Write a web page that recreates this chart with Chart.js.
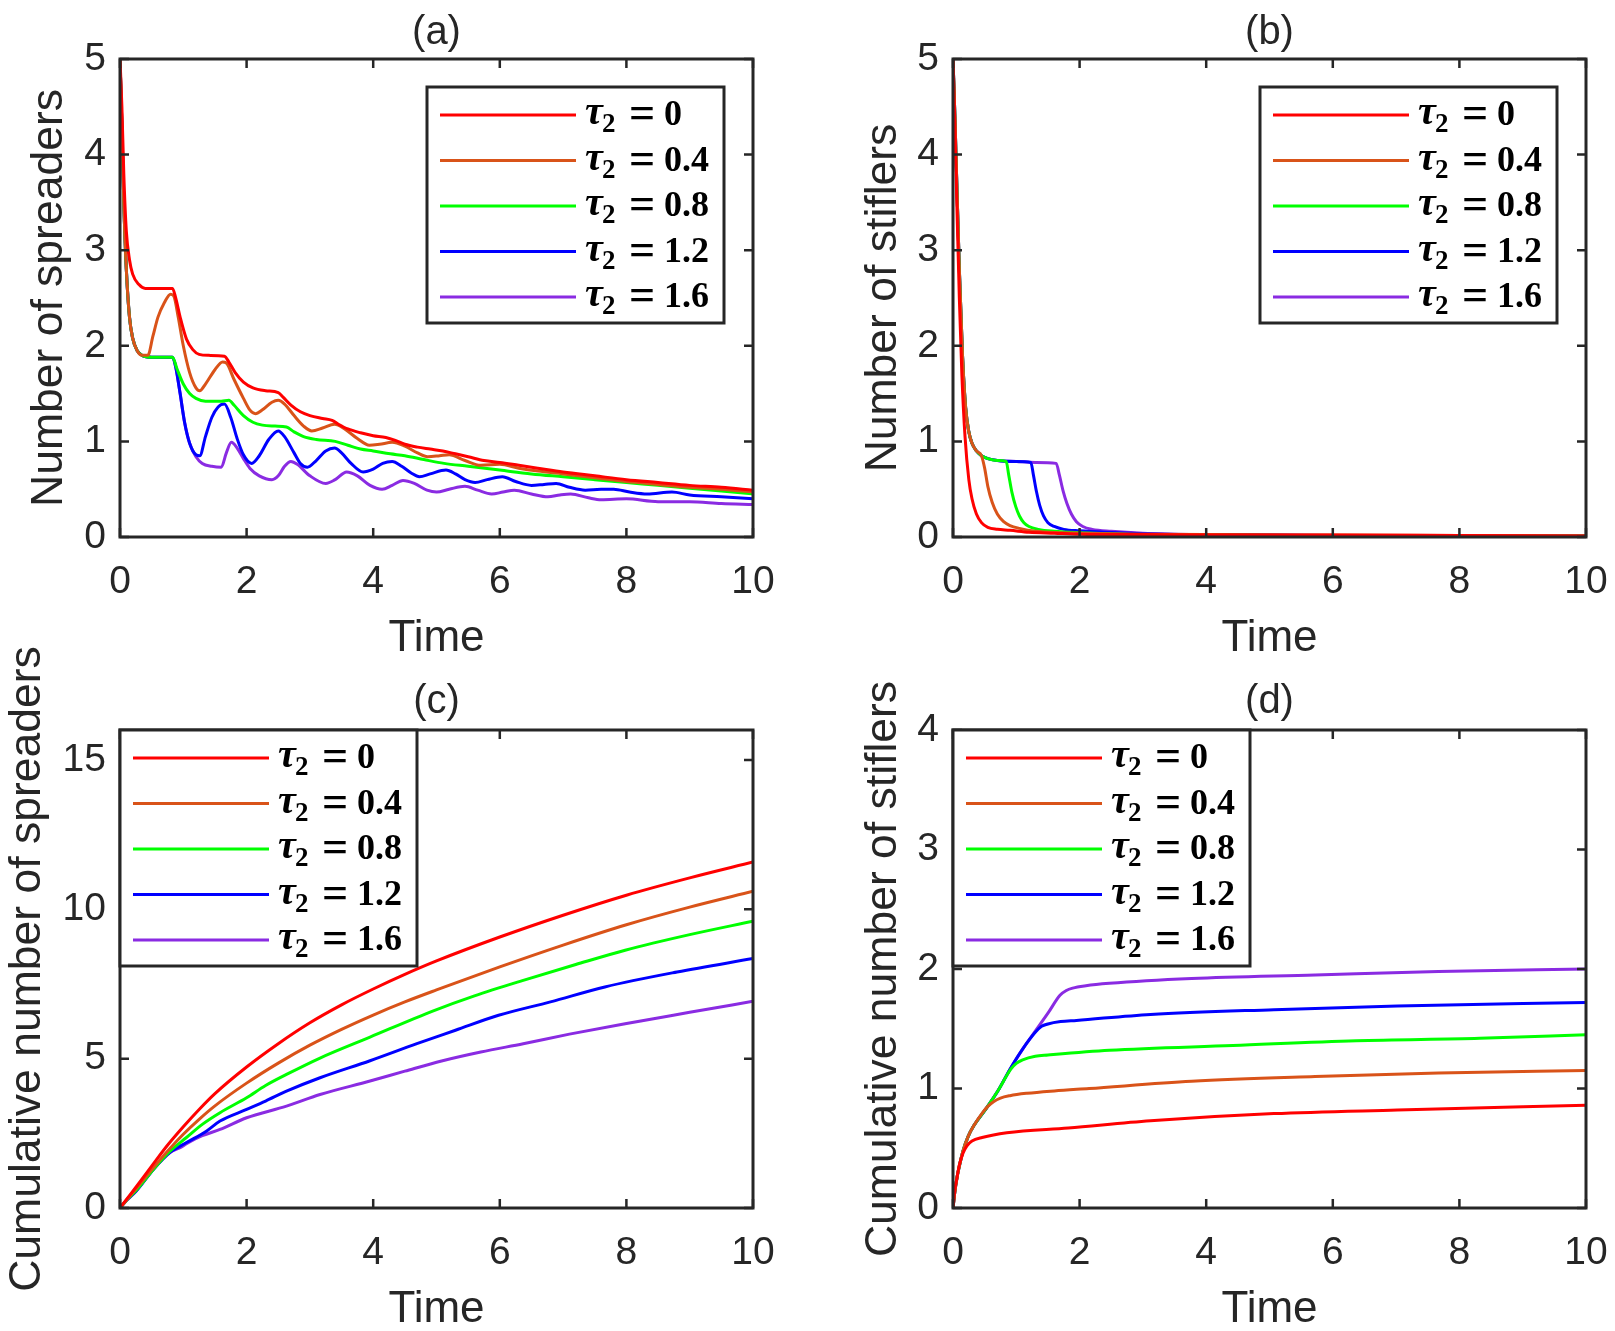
<!DOCTYPE html>
<html>
<head>
<meta charset="utf-8">
<title>Spreaders and stiflers for different tau2</title>
<script src="https://cdn.jsdelivr.net/npm/chart.js@4.4.0/dist/chart.umd.min.js"></script>
<style>
  html, body { margin: 0; background: #fff; overflow: hidden; }
  #wrap { position: relative; width: 1615px; height: 1331px; overflow: hidden; }
  canvas { position: absolute; }
</style>
</head>
<body>
<div id="wrap">
  <canvas id="pa" width="807" height="665" style="left:0;top:0"></canvas>
  <canvas id="pb" width="823" height="665" style="left:807px;top:0"></canvas>
  <canvas id="pc" width="807" height="731" style="left:0;top:600px"></canvas>
  <canvas id="pd" width="823" height="731" style="left:807px;top:600px"></canvas>
</div>
<script>
// legend values and colours
const tauLabels = ['0', '0.4', '0.8', '1.2', '1.6'];
const colors = ['#ff0000', '#d95319', '#00ff00', '#0000ff', '#8a2be2'];

// (a) number of spreaders, [time, value]
const spreadTau0 = [[0,5],[0.03,4.5],[0.06,3.8],[0.1,3.2],[0.15,2.9],[0.2,2.75],[0.3,2.64],[0.4,2.6],[0.6,2.6],[0.83,2.6],[0.88,2.5],[0.95,2.3],[1.05,2.07],[1.15,1.96],[1.25,1.91],[1.4,1.9],[1.65,1.89],[1.72,1.83],[1.82,1.72],[1.95,1.62],[2.1,1.56],[2.3,1.53],[2.5,1.51],[2.58,1.46],[2.7,1.38],[2.85,1.31],[3.0,1.27],[3.2,1.24],[3.35,1.22],[3.45,1.18],[3.6,1.13],[3.8,1.09],[4.0,1.06],[4.2,1.04],[4.35,1.01],[4.5,0.97],[4.7,0.94],[4.9,0.92],[5.1,0.9],[5.3,0.87],[5.5,0.84],[5.75,0.8],[6.0,0.78],[6.3,0.75],[6.6,0.72],[7.0,0.68],[7.5,0.64],[8.0,0.6],[8.5,0.57],[9.0,0.54],[9.5,0.52],[10,0.49]];
const spreadTau04 = [[0,5],[0.03,4.3],[0.06,3.5],[0.1,2.8],[0.15,2.3],[0.2,2.08],[0.27,1.95],[0.35,1.9],[0.44,1.9],[0.52,2.1],[0.6,2.3],[0.7,2.45],[0.8,2.54],[0.85,2.52],[0.92,2.3],[1.0,2.0],[1.1,1.72],[1.2,1.56],[1.26,1.53],[1.35,1.6],[1.5,1.75],[1.62,1.83],[1.68,1.82],[1.8,1.65],[1.95,1.45],[2.05,1.33],[2.14,1.29],[2.25,1.33],[2.4,1.41],[2.5,1.43],[2.6,1.39],[2.75,1.27],[2.9,1.16],[3.03,1.11],[3.2,1.14],[3.39,1.18],[3.55,1.13],[3.75,1.03],[3.94,0.96],[4.1,0.97],[4.3,0.99],[4.5,0.95],[4.7,0.88],[4.86,0.84],[5.05,0.85],[5.2,0.86],[5.45,0.8],[5.7,0.75],[6.0,0.76],[6.3,0.72],[6.6,0.69],[7.0,0.66],[7.5,0.62],[8.0,0.58],[8.5,0.55],[9.0,0.52],[9.5,0.5],[10,0.47]];
const spreadTau08 = [[0,5],[0.03,4.3],[0.06,3.5],[0.1,2.8],[0.15,2.3],[0.2,2.08],[0.27,1.95],[0.35,1.9],[0.5,1.88],[0.83,1.88],[0.9,1.76],[1.0,1.6],[1.1,1.5],[1.2,1.45],[1.35,1.42],[1.6,1.42],[1.72,1.43],[1.8,1.38],[1.95,1.27],[2.1,1.2],[2.25,1.17],[2.45,1.16],[2.63,1.15],[2.75,1.1],[2.9,1.05],[3.1,1.02],[3.4,1.0],[3.6,0.96],[3.8,0.92],[4.0,0.9],[4.27,0.87],[4.5,0.85],[4.8,0.81],[5.12,0.77],[5.5,0.74],[6.0,0.7],[6.5,0.66],[7.0,0.63],[7.5,0.6],[8.0,0.57],[8.5,0.54],[9.0,0.51],[9.5,0.48],[10,0.45]];
const spreadTau12 = [[0,5],[0.03,4.3],[0.06,3.5],[0.1,2.8],[0.15,2.3],[0.2,2.08],[0.27,1.95],[0.35,1.9],[0.5,1.88],[0.83,1.88],[0.88,1.78],[0.95,1.5],[1.02,1.2],[1.1,0.98],[1.2,0.86],[1.26,0.85],[1.35,1.05],[1.45,1.25],[1.55,1.36],[1.65,1.39],[1.75,1.25],[1.85,1.03],[1.95,0.86],[2.08,0.77],[2.2,0.85],[2.35,1.02],[2.5,1.11],[2.6,1.05],[2.75,0.88],[2.85,0.77],[2.96,0.73],[3.1,0.8],[3.25,0.9],[3.39,0.93],[3.5,0.88],[3.65,0.77],[3.84,0.68],[4.0,0.71],[4.15,0.77],[4.3,0.79],[4.45,0.74],[4.6,0.67],[4.73,0.63],[4.9,0.66],[5.15,0.7],[5.3,0.66],[5.45,0.6],[5.61,0.57],[5.8,0.6],[6.04,0.63],[6.25,0.58],[6.5,0.54],[6.7,0.55],[6.89,0.56],[7.1,0.52],[7.35,0.49],[7.6,0.5],[7.8,0.5],[8.05,0.47],[8.33,0.45],[8.72,0.47],[9.0,0.44],[9.5,0.42],[10,0.4]];
const spreadTau16 = [[0,5],[0.03,4.3],[0.06,3.5],[0.1,2.8],[0.15,2.3],[0.2,2.08],[0.27,1.95],[0.35,1.9],[0.5,1.88],[0.83,1.88],[0.88,1.78],[0.95,1.5],[1.02,1.2],[1.1,0.98],[1.2,0.84],[1.3,0.77],[1.45,0.74],[1.6,0.73],[1.68,0.88],[1.76,0.99],[1.85,0.93],[1.95,0.82],[2.05,0.72],[2.2,0.64],[2.4,0.6],[2.5,0.64],[2.6,0.74],[2.7,0.79],[2.8,0.76],[3.0,0.64],[3.25,0.56],[3.4,0.6],[3.58,0.68],[3.75,0.64],[3.95,0.54],[4.14,0.5],[4.3,0.54],[4.47,0.59],[4.65,0.56],[4.85,0.49],[5.0,0.47],[5.2,0.5],[5.45,0.53],[5.65,0.49],[5.87,0.45],[6.05,0.47],[6.23,0.49],[6.5,0.45],[6.76,0.42],[6.95,0.44],[7.12,0.45],[7.4,0.41],[7.6,0.39],[8.0,0.4],[8.5,0.37],[9.0,0.37],[9.5,0.35],[10,0.34]];

// (b) number of stiflers
const stifTau0 = [[0,5],[0.03,4.3],[0.06,3.5],[0.1,2.5],[0.14,1.7],[0.19,1.05],[0.25,0.6],[0.3,0.4],[0.37,0.24],[0.45,0.15],[0.55,0.1],[0.7,0.08],[0.9,0.07],[1.2,0.05],[1.6,0.04],[2.0,0.03],[3.0,0.025],[4.0,0.02],[6.0,0.02],[8.0,0.015],[10,0.01]];
const stifTau04 = [[0,5],[0.03,4.4],[0.06,3.7],[0.1,2.8],[0.15,1.9],[0.2,1.35],[0.25,1.1],[0.3,0.98],[0.37,0.9],[0.45,0.85],[0.5,0.72],[0.55,0.53],[0.62,0.36],[0.7,0.24],[0.8,0.16],[0.9,0.12],[1.05,0.09],[1.3,0.06],[1.7,0.045],[2.0,0.04],[3.0,0.03],[4.0,0.025],[6.0,0.02],[8.0,0.015],[10,0.01]];
const stifTau08 = [[0,5],[0.03,4.4],[0.06,3.7],[0.1,2.8],[0.15,1.9],[0.2,1.35],[0.25,1.1],[0.3,0.98],[0.37,0.9],[0.45,0.85],[0.55,0.82],[0.7,0.8],[0.84,0.79],[0.88,0.65],[0.93,0.47],[0.99,0.32],[1.05,0.22],[1.12,0.15],[1.2,0.11],[1.35,0.08],[1.6,0.06],[2.0,0.045],[2.7,0.03],[4.0,0.02],[6.0,0.015],[8.0,0.01],[10,0.01]];
const stifTau12 = [[0,5],[0.03,4.4],[0.06,3.7],[0.1,2.8],[0.15,1.9],[0.2,1.35],[0.25,1.1],[0.3,0.98],[0.37,0.9],[0.45,0.85],[0.55,0.82],[0.7,0.8],[1.0,0.79],[1.23,0.78],[1.27,0.65],[1.32,0.47],[1.37,0.33],[1.43,0.22],[1.5,0.15],[1.6,0.11],[1.75,0.08],[2.0,0.065],[2.4,0.05],[3.0,0.035],[4.0,0.025],[6.0,0.015],[8.0,0.01],[10,0.01]];
const stifTau16 = [[0,5],[0.03,4.4],[0.06,3.7],[0.1,2.8],[0.15,1.9],[0.2,1.35],[0.25,1.1],[0.3,0.98],[0.37,0.9],[0.45,0.85],[0.55,0.82],[0.7,0.8],[1.0,0.79],[1.3,0.78],[1.63,0.77],[1.68,0.65],[1.74,0.48],[1.8,0.35],[1.87,0.24],[1.95,0.16],[2.05,0.11],[2.2,0.08],[2.5,0.06],[3.0,0.04],[4.0,0.025],[6.0,0.015],[8.0,0.01],[10,0.01]];

// (c) cumulative number of spreaders
const cumSpreadTau0 = [[0,0],[0.1,0.28],[0.26,0.72],[0.5,1.4],[0.75,2.1],[1.0,2.72],[1.25,3.3],[1.5,3.83],[2.0,4.72],[2.5,5.5],[3.0,6.2],[3.5,6.8],[4.0,7.33],[4.5,7.82],[5.0,8.27],[6.0,9.07],[7.0,9.8],[8.0,10.47],[9.0,11.05],[10,11.58]];
const cumSpreadTau04 = [[0,0],[0.1,0.26],[0.26,0.66],[0.5,1.28],[0.75,1.9],[1.0,2.47],[1.25,2.97],[1.5,3.42],[2.0,4.18],[2.5,4.85],[3.0,5.45],[3.5,5.98],[4.0,6.46],[4.5,6.9],[5.0,7.3],[6.0,8.07],[7.0,8.8],[8.0,9.48],[9.0,10.07],[10,10.6]];
const cumSpreadTau08 = [[0,0],[0.1,0.25],[0.26,0.6],[0.53,1.3],[0.79,1.9],[1.05,2.36],[1.3,2.8],[1.58,3.19],[2.0,3.69],[2.3,4.1],[2.63,4.47],[3.16,5.02],[3.95,5.72],[4.95,6.6],[5.6,7.1],[6.37,7.62],[7.2,8.15],[7.98,8.63],[9.0,9.15],[10,9.6]];
const cumSpreadTau12 = [[0,0],[0.1,0.25],[0.26,0.58],[0.53,1.3],[0.79,1.86],[1.05,2.19],[1.37,2.58],[1.58,2.91],[2.0,3.3],[2.3,3.58],[2.63,3.91],[3.16,4.36],[3.95,4.93],[4.69,5.5],[5.3,5.95],[5.98,6.45],[6.8,6.9],[7.66,7.4],[8.8,7.9],[10,8.35]];
const cumSpreadTau16 = [[0,0],[0.1,0.24],[0.26,0.58],[0.53,1.3],[0.79,1.86],[0.95,2.02],[1.05,2.15],[1.3,2.42],[1.58,2.63],[2.0,3.02],[2.63,3.41],[3.16,3.8],[3.95,4.25],[4.5,4.58],[5.08,4.92],[5.7,5.22],[6.37,5.5],[7.1,5.82],[7.98,6.17],[9.0,6.55],[10,6.92]];

// (d) cumulative number of stiflers
const cumStifTau0 = [[0,0],[0.03,0.15],[0.065,0.26],[0.1,0.36],[0.16,0.46],[0.22,0.52],[0.3,0.56],[0.46,0.59],[0.85,0.63],[1.82,0.67],[3.12,0.73],[5.07,0.79],[7.02,0.82],[10,0.86]];
const cumStifTau04 = [[0,0],[0.03,0.14],[0.065,0.26],[0.1,0.35],[0.16,0.48],[0.24,0.6],[0.33,0.69],[0.47,0.8],[0.55,0.85],[0.64,0.89],[0.75,0.92],[0.9,0.94],[1.17,0.96],[1.6,0.98],[2.15,1.0],[3.77,1.06],[5.72,1.1],[7.67,1.13],[10,1.15]];
const cumStifTau08 = [[0,0],[0.03,0.14],[0.065,0.26],[0.1,0.35],[0.16,0.48],[0.24,0.6],[0.33,0.69],[0.52,0.83],[0.72,0.99],[0.91,1.16],[1.0,1.21],[1.1,1.24],[1.3,1.27],[1.5,1.28],[2.47,1.32],[4.42,1.36],[6.37,1.4],[8.32,1.42],[10,1.45]];
const cumStifTau12 = [[0,0],[0.03,0.14],[0.065,0.26],[0.1,0.35],[0.16,0.48],[0.24,0.6],[0.33,0.69],[0.52,0.83],[0.72,0.99],[0.91,1.17],[1.1,1.33],[1.3,1.47],[1.4,1.52],[1.5,1.54],[1.7,1.56],[1.95,1.57],[3.12,1.62],[5.07,1.66],[7.02,1.69],[10,1.72]];
const cumStifTau16 = [[0,0],[0.03,0.14],[0.065,0.26],[0.1,0.35],[0.16,0.48],[0.24,0.6],[0.33,0.69],[0.52,0.83],[0.72,0.99],[0.91,1.17],[1.1,1.33],[1.3,1.48],[1.5,1.63],[1.69,1.78],[1.79,1.82],[1.89,1.84],[2.1,1.86],[2.47,1.88],[3.77,1.92],[5.72,1.95],[7.67,1.98],[10,2.0]];

const SANS = '"Liberation Sans", Arial, sans-serif';
const SERIF = '"Liberation Serif", "Times New Roman", serif';
const INK = '#262626';

function mathLabel(ctx, x, y, val) {
  ctx.fillStyle = '#000';
  ctx.textAlign = 'left';
  ctx.textBaseline = 'alphabetic';
  ctx.font = 'italic bold 40px ' + SERIF;
  ctx.fillText('\u03c4', x, y + 9);
  ctx.font = 'bold 27px ' + SERIF;
  ctx.fillText('2', x + 17, y + 17);
  ctx.font = 'bold 46px ' + SERIF;
  ctx.fillText('=', x + 44, y + 13);
  ctx.font = 'bold 36px ' + SERIF;
  ctx.fillText(val, x + 79, y + 10);
}

// box, inward ticks, titles and legend, like a MATLAB axes
const framePlugin = {
  id: 'frame',
  afterDatasetsDraw(chart, args, o) {
    const { ctx, chartArea: a, scales } = chart;
    const xs = scales.x, ys = scales.y;
    ctx.save();
    ctx.strokeStyle = INK;
    ctx.lineWidth = 2.5;
    ctx.beginPath();
    xs.ticks.forEach(t => {
      const px = xs.getPixelForValue(t.value);
      ctx.moveTo(px, a.bottom); ctx.lineTo(px, a.bottom - 9);
      ctx.moveTo(px, a.top); ctx.lineTo(px, a.top + 9);
    });
    ys.ticks.forEach(t => {
      const py = ys.getPixelForValue(t.value);
      ctx.moveTo(a.left, py); ctx.lineTo(a.left + 9, py);
      ctx.moveTo(a.right, py); ctx.lineTo(a.right - 9, py);
    });
    ctx.stroke();
    ctx.lineWidth = 3;
    ctx.strokeRect(a.left, a.top, a.right - a.left, a.bottom - a.top);

    // titles
    ctx.fillStyle = INK;
    ctx.textAlign = 'center';
    ctx.textBaseline = 'middle';
    ctx.font = '40px ' + SANS;
    ctx.fillText(o.title, (a.left + a.right) / 2, a.top - o.titleGap);
    ctx.font = '44px ' + SANS;
    ctx.fillText('Time', (a.left + a.right) / 2, a.bottom + 102);
    ctx.save();
    ctx.translate(a.left - o.yTitleOffset, (a.top + a.bottom) / 2);
    ctx.rotate(-Math.PI / 2);
    ctx.font = '44.5px ' + SANS;
    ctx.fillText(o.yTitle, 0, 0);
    ctx.restore();

    // legend
    const bw = 297, bh = 236;
    const bx = o.legend === 'ne' ? a.right - 29 - bw : a.left;
    const by = o.legend === 'ne' ? a.top + 28 : a.top;
    ctx.fillStyle = '#fff';
    ctx.fillRect(bx, by, bw, bh);
    ctx.strokeStyle = INK;
    ctx.lineWidth = 3;
    ctx.strokeRect(bx, by, bw, bh);
    chart.data.datasets.forEach((ds, i) => {
      const ry = by + 28 + i * 45.5;
      ctx.strokeStyle = ds.borderColor;
      ctx.lineWidth = 3;
      ctx.beginPath();
      ctx.moveTo(bx + 13, ry); ctx.lineTo(bx + 149, ry);
      ctx.stroke();
      mathLabel(ctx, bx + 158, ry, tauLabels[i]);
    });
    ctx.restore();
  }
};

function makePanel(id, series, yMax, yStep, cfg) {
  new Chart(document.getElementById(id), {
    type: 'line',
    data: {
      datasets: series.map((s, i) => ({
        label: '\u03c4\u2082 = ' + tauLabels[i],
        data: s.map(p => ({ x: p[0], y: p[1] })),
        borderColor: colors[i],
        borderWidth: 3,
        pointRadius: 0,
        fill: false,
        cubicInterpolationMode: 'monotone'
      }))
    },
    options: {
      responsive: false,
      animation: false,
      devicePixelRatio: 1,
      layout: { padding: { left: 0, top: cfg.top, right: cfg.right, bottom: 0 } },
      plugins: {
        legend: { display: false },
        tooltip: { enabled: false },
        frame: cfg
      },
      scales: {
        x: {
          type: 'linear', min: 0, max: 10,
          grid: { display: false, drawTicks: false },
          border: { display: false },
          ticks: { stepSize: 2, autoSkip: false, maxRotation: 0, padding: 22, color: INK, font: { family: SANS, size: 39 } },
          afterFit: s => { s.height = cfg.xH; }
        },
        y: {
          type: 'linear', min: 0, max: yMax,
          grid: { display: false, drawTicks: false },
          border: { display: false },
          ticks: { stepSize: yStep, includeBounds: false, autoSkip: false, padding: 14, color: INK, font: { family: SANS, size: 39 } },
          afterFit: s => { s.width = cfg.yW; }
        }
      }
    },
    plugins: [framePlugin]
  });
}

makePanel('pa', [spreadTau0, spreadTau04, spreadTau08, spreadTau12, spreadTau16], 5, 1,
  { title: '(a)', titleGap: 26, yTitle: 'Number of spreaders', yTitleOffset: 70, legend: 'ne', top: 59, right: 54, xH: 128, yW: 120 });
makePanel('pb', [stifTau0, stifTau04, stifTau08, stifTau12, stifTau16], 5, 1,
  { title: '(b)', titleGap: 26, yTitle: 'Number of stiflers', yTitleOffset: 69, legend: 'ne', top: 59, right: 44, xH: 128, yW: 146 });
makePanel('pc', [cumSpreadTau0, cumSpreadTau04, cumSpreadTau08, cumSpreadTau12, cumSpreadTau16], 16, 5,
  { title: '(c)', titleGap: 28, yTitle: 'Cumulative number of spreaders', yTitleOffset: 92, legend: 'nw', top: 130, right: 54, xH: 123, yW: 120 });
makePanel('pd', [cumStifTau0, cumStifTau04, cumStifTau08, cumStifTau12, cumStifTau16], 4, 1,
  { title: '(d)', titleGap: 28, yTitle: 'Cumulative number of stiflers', yTitleOffset: 69, legend: 'nw', top: 130, right: 44, xH: 123, yW: 146 });
</script>
</body>
</html>
